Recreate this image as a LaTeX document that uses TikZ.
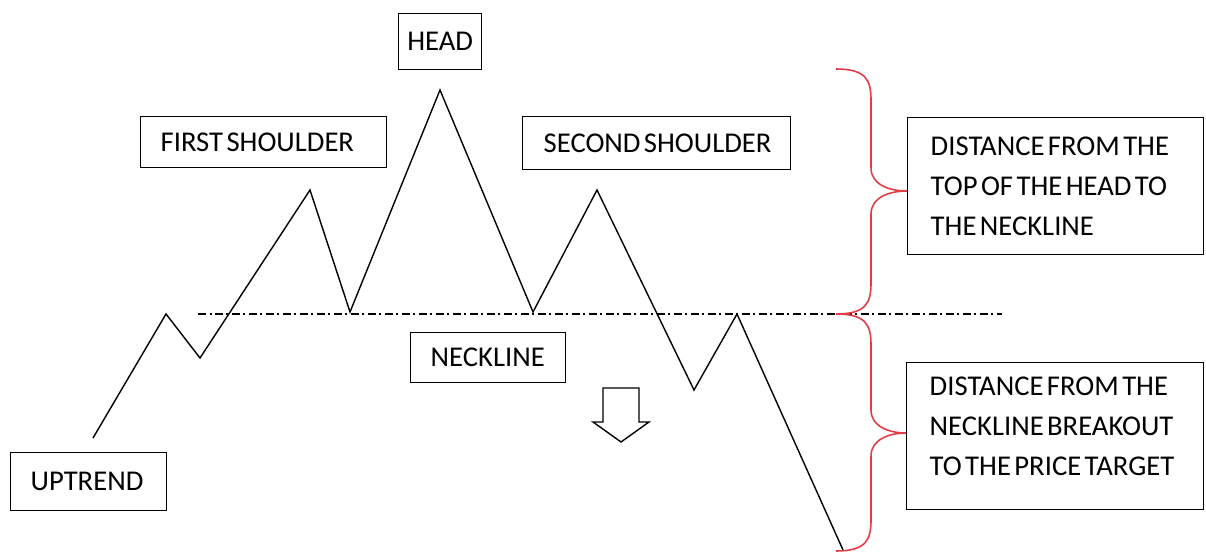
\documentclass[tikz,border=0pt]{standalone}
\usepackage{fontspec}
\setmainfont{Carlito}
\definecolor{bracered}{RGB}{228,60,70}
\protected\def\myboxfont{\fontsize{16.3}{22.76}\selectfont}
\protected\def\g{\hspace{0.12em}}
\begin{document}
\begin{tikzpicture}[x=0.02cm,y=-0.02cm,
  box/.style={draw=black, line width=0.8pt, anchor=north west, align=left,
    inner xsep=0.4cm, inner ysep=0pt, font=\myboxfont},
  price/.style={draw=black, line width=0.8pt, line join=miter},
  neck/.style={draw=black, line width=0.8pt,
    dash pattern=on 0.16cm off 0.07cm on 0.04cm off 0.07cm},
  brc/.style={draw=bracered, line width=0.9pt},
  hollow/.style={draw=black, line width=0.8pt, fill=white, line join=miter}]
\useasboundingbox (0,0) rectangle (1206,553);

% boxes
\node[box, align=center, inner xsep=0pt, text width=1.66cm, minimum height=1.12cm] (head) at (398,13) {HEAD};
\node[box, text width=4.12cm, minimum height=1.02cm] (fs) at (140,116) {\mbox{FIRST\g SHOULDER}};
\node[box, inner xsep=0.42cm, text width=4.52cm, minimum height=1.06cm] (ss) at (522,116) {\mbox{SECOND\g SHOULDER}};
\node[box, text width=2.3cm, minimum height=1.0cm] (necklbl) at (410,332) {\mbox{NECKLINE}};
\node[box, text width=2.32cm, minimum height=1.16cm] (up) at (10,452) {\mbox{UPTREND}};
\node[box, inner xsep=0.46cm, text width=5.0cm, minimum height=2.74cm] (d1) at (907,117)
  {\mbox{DISTANCE\g FROM\g THE}\\\mbox{TOP\g OF\g THE\g HEAD\g TO}\\\mbox{THE\g NECKLINE}};
\node[box, inner xsep=0.46cm, text width=5.02cm, minimum height=2.94cm] (d2) at (906,362)
  {\mbox{DISTANCE\g FROM\g THE}\\\mbox{NECKLINE\g BREAKOUT}\\\mbox{TO\g THE\g PRICE\g TARGET}\rule[-0.4cm]{0pt}{0.4cm}};

% price path
\coordinate (p0) at (93,438);
\coordinate (p1) at (166,314);
\coordinate (p2) at (200,358);
\coordinate (p3) at (310,190);
\coordinate (p4) at (350,312);
\coordinate (p5) at (440,90);
\coordinate (p6) at (533,312);
\coordinate (p7) at (597,190);
\coordinate (p8) at (694,390);
\coordinate (p9) at (737,314);
\coordinate (p10) at (843,550);
\draw[price] (p0) -- (p1) -- (p2) -- (p3) -- (p4) -- (p5) -- (p6) -- (p7) -- (p8) -- (p9) -- (p10);

% neckline
\coordinate (nl) at (198,314);
\coordinate (nr) at (1002,314);
\draw[neck] (nl) -- (nr);

% braces
\coordinate (b0) at (836,69);
\coordinate (b1) at (836,314);
\coordinate (b2) at (836,551);
\draw[brc] (b0) .. controls (866,69) and (871,80) .. (871,100)
  -- (871,168) .. controls (871,185) and (890,191) .. (907,191)
  .. controls (890,191) and (871,197) .. (871,214)
  -- (871,283) .. controls (871,303) and (866,314) .. (b1);
\draw[brc] (b1) .. controls (866,314) and (871,325) .. (871,345)
  -- (871,410) .. controls (871,427) and (890,433) .. (906,433)
  .. controls (890,433) and (871,439) .. (871,456)
  -- (871,520) .. controls (871,540) and (866,551) .. (b2);

% hollow arrow
\draw[hollow] (603,388) -- (639,388) -- (639,422) -- (649,422) -- (621,442)
  -- (593,422) -- (603,422) -- cycle;
\end{tikzpicture}
\end{document}
